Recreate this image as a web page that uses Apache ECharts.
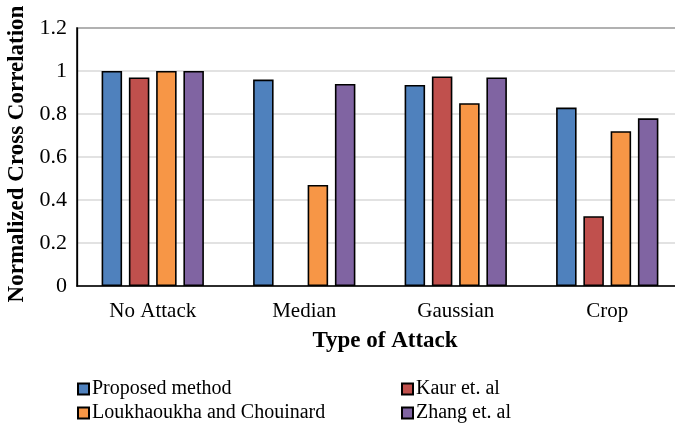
<!DOCTYPE html>
<html>
<head>
<meta charset="utf-8">
<script src="https://cdn.jsdelivr.net/npm/echarts@6/dist/echarts.min.js"></script>
<style>
  html, body { margin: 0; padding: 0; background: #fff; }
  #chart { width: 675px; height: 426px; }
</style>
</head>
<body>
<div id="chart"></div>
<script>
// Attack types on the category axis
const categories = ['No Attack', 'Median', 'Gaussian', 'Crop'];

// Normalized cross correlation per method (null = not reported)
const proposed = [1.00, 0.96, 0.935, 0.83];
const kaur = [0.97, null, 0.975, 0.325];
const loukhaoukha = [1.00, 0.47, 0.85, 0.72];
const zhang = [1.00, 0.94, 0.97, 0.78];

const seriesNames = ['Proposed method', 'Kaur et. al', 'Loukhaoukha and Chouinard', 'Zhang et. al'];
const seriesColors = ['#4F81BD', '#C0504D', '#F79646', '#8064A2'];
const seriesData = [proposed, kaur, loukhaoukha, zhang];

const FONT = "'Liberation Serif', 'Times New Roman', serif";

const chart = echarts.init(document.getElementById('chart'), null, { renderer: 'canvas' });

const series = seriesNames.map((name, i) => ({
  name: name,
  type: 'bar',
  data: seriesData[i],
  barWidth: 20.5,
  barGap: '33%',
  itemStyle: {
    color: seriesColors[i],
    borderColor: '#000',
    borderWidth: 1.6
  }
}));

const legendCommon = {
  orient: 'vertical',
  icon: 'rect',
  itemWidth: 11,
  itemHeight: 11,
  itemGap: 4,
  padding: 0,
  textStyle: { fontFamily: FONT, fontSize: 20, color: '#000', lineHeight: 20, padding: [0, 0, 0, -2] }
};

chart.setOption({
  animation: false,
  backgroundColor: '#fff',
  grid: {
    left: 77,
    top: 28,
    right: -8,
    bottom: 140,
    containLabel: false,
    outerBoundsMode: 'none',
    show: true,
    borderColor: '#000',
    borderWidth: 1.5
  },
  legend: [
    Object.assign({ left: 77, top: 379, data: [seriesNames[0], seriesNames[2]] }, legendCommon),
    Object.assign({ left: 401, top: 379, data: [seriesNames[1], seriesNames[3]] }, legendCommon)
  ],
  xAxis: {
    type: 'category',
    data: categories,
    name: 'Type of Attack',
    nameLocation: 'middle',
    nameGap: 44,
    nameTextStyle: { fontFamily: FONT, fontSize: 23, fontWeight: 'bold', color: '#000', padding: [0, 0, 0, 10] },
    axisLine: { lineStyle: { color: '#000', width: 1.5 } },
    axisTick: { show: false },
    axisLabel: { fontFamily: FONT, fontSize: 21, color: '#000', margin: 15 }
  },
  yAxis: {
    type: 'value',
    min: 0,
    max: 1.2,
    interval: 0.2,
    name: 'Normalized Cross Correlation',
    nameLocation: 'middle',
    nameGap: 48,
    nameTextStyle: { fontFamily: FONT, fontSize: 23, fontWeight: 'bold', color: '#000', padding: [0, 0, 0, 6] },
    axisLine: { show: true, lineStyle: { color: '#000', width: 1.3 } },
    axisTick: { show: false },
    axisLabel: { fontFamily: FONT, fontSize: 22, color: '#000', margin: 10 },
    splitLine: { lineStyle: { color: '#d9d9d9', width: 1.5 } }
  },
  series: series
});
</script>
</body>
</html>
